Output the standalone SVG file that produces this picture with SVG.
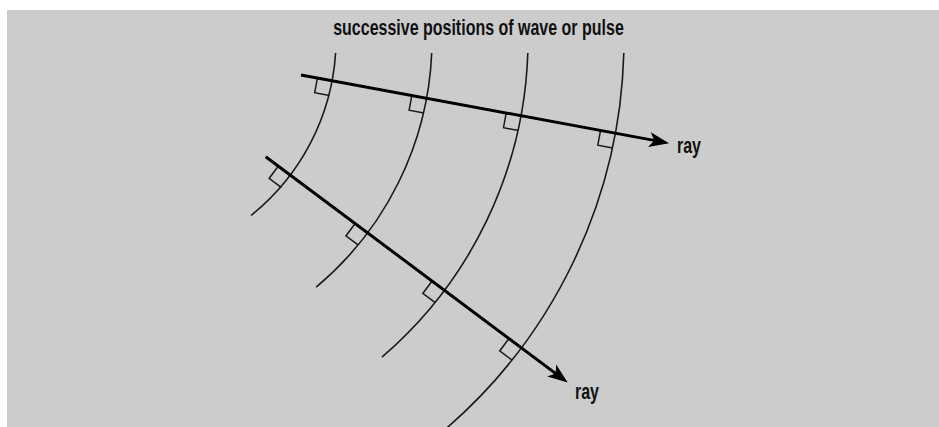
<svg xmlns="http://www.w3.org/2000/svg" width="939" height="427" viewBox="0 0 939 427">
<defs>
<style>
.wave{fill:none;stroke:#1a1a1a;stroke-width:1.6}
.ray{fill:none;stroke:#000;stroke-width:3}
.ra{fill:none;stroke:#1a1a1a;stroke-width:1.5}
.lbl{font-family:"Liberation Sans",Arial,sans-serif;font-weight:bold;font-size:16px;fill:#111}
</style>
<marker id="arrow" markerUnits="userSpaceOnUse" markerWidth="40" markerHeight="40" refX="0" refY="0" orient="auto" viewBox="-20 -20 40 40" overflow="visible">
<path d="M14,0 L-6,-7.5 L-1,0 L-6,7.5 Z" fill="#000"/>
</marker>
</defs>
<rect x="7" y="10" width="932" height="417" fill="#cccccc"/>
<g id="wavefronts">
<path class="wave" d="M335.6,53 A227,227 0 0 1 251,215.5"/>
<path class="wave" d="M431.7,53 A323,323 0 0 1 316.2,287.1"/>
<path class="wave" d="M527.8,53 A419,419 0 0 1 381.9,357.2"/>
<path class="wave" d="M623.8,53 A515,515 0 0 1 444.5,430"/>
</g>
<g id="right-angles">
<path class="ra" d="M317.45,77.96 l-2.74,14.75 l14.75,2.74"/>
<path class="ra" d="M411.85,95.46 l-2.74,14.75 l14.75,2.74"/>
<path class="ra" d="M506.25,112.96 l-2.74,14.75 l14.75,2.74"/>
<path class="ra" d="M600.55,130.46 l-2.74,14.75 l14.75,2.74"/>
<path class="ra" d="M278.39,166.02 l-9.28,12.41 l12.41,9.28"/>
<path class="ra" d="M355.19,223.52 l-9.28,12.41 l12.41,9.28"/>
<path class="ra" d="M432.09,281.02 l-9.28,12.41 l12.41,9.28"/>
<path class="ra" d="M508.99,338.52 l-9.28,12.41 l12.41,9.28"/>
</g>
<g id="connectors">
<line class="ray" x1="301" y1="75" x2="655.3" y2="140.6" marker-end="url(#arrow)"/>
<line class="ray" x1="265.7" y1="156.7" x2="556.5" y2="374.1" marker-end="url(#arrow)"/>
</g>
<g id="labels">
<text class="lbl" text-anchor="middle" transform="translate(478.5,34.5) scale(1,1.4)">successive positions of wave or pulse</text>
<text class="lbl" transform="translate(677,152.5) scale(1,1.4)">ray</text>
<text class="lbl" transform="translate(575,399) scale(1,1.4)">ray</text>
</g>
</svg>
